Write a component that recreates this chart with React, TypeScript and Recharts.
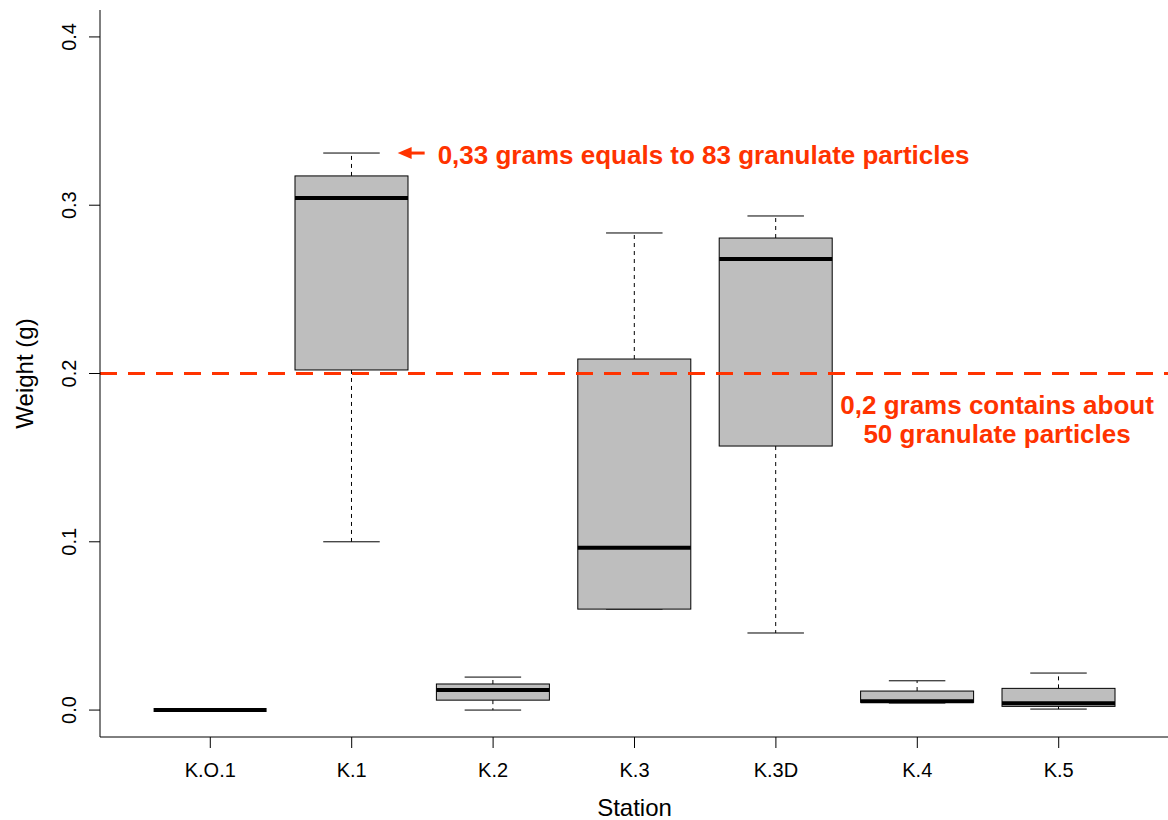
import React from 'react';
import { ComposedChart, Bar, XAxis, YAxis, ReferenceLine, ReferenceDot, Label } from 'recharts';

// ---- data ----
const stations = ['K.O.1', 'K.1', 'K.2', 'K.3', 'K.3D', 'K.4', 'K.5'];
const positions = [1, 2, 3, 4, 5, 6, 7];
const whiskerLow = [0, 0.1, 0, 0.06, 0.0458, 0.0042, 0.0006];
const quartile1 = [0, 0.2021, 0.0059, 0.06, 0.1569, 0.0046, 0.0022];
const medians = [0, 0.3043, 0.0119, 0.0965, 0.268, 0.0052, 0.004];
const quartile3 = [0, 0.3174, 0.0155, 0.2086, 0.2805, 0.0113, 0.0129];
const whiskerHigh = [0, 0.331, 0.0196, 0.2835, 0.2936, 0.0174, 0.022];
const yTicks = [0, 0.1, 0.2, 0.3, 0.4];
const thresholdValue = 0.2;
const maxValue = 0.331;
const note1 = '0,33 grams equals to 83 granulate particles';
const note2a = '0,2 grams contains about';
const note2b = '50 granulate particles';

const data = positions.map((p, i) => ({
  pos: p,
  name: stations[i],
  low: whiskerLow[i],
  q1: quartile1[i],
  med: medians[i],
  q3: quartile3[i],
  high: whiskerHigh[i],
}));

const FONT = '"Liberation Sans", Arial, Helvetica, sans-serif';
const RED = '#FF3300';
const X_DOMAIN: [number, number] = [0.22, 7.78];
const Y_DOMAIN: [number, number] = [-0.016, 0.416];

const BoxShape = (props: any) => {
  const { x, y, width, height, payload } = props;
  if (x == null || payload == null) return null;
  const top = Math.min(y, y + height);
  const bottom = Math.max(y, y + height);
  const { low, q1, med, q3, high } = payload;
  const span = high - low;
  const py = (v: number) => (span > 0 ? bottom - ((v - low) / span) * (bottom - top) : top);
  const cx = x + width / 2;
  const half = width / 2;
  const capHalf = width / 4;
  return (
    <g>
      <line x1={cx} x2={cx} y1={py(q3)} y2={py(high)} stroke="#000" strokeWidth={1} strokeDasharray="4 4" />
      <line x1={cx} x2={cx} y1={py(q1)} y2={py(low)} stroke="#000" strokeWidth={1} strokeDasharray="4 4" />
      <line x1={cx - capHalf} x2={cx + capHalf} y1={py(high)} y2={py(high)} stroke="#000" strokeWidth={1} />
      <line x1={cx - capHalf} x2={cx + capHalf} y1={py(low)} y2={py(low)} stroke="#000" strokeWidth={1} />
      <rect x={cx - half} y={py(q3)} width={width} height={Math.max(0, py(q1) - py(q3))} fill="#BEBEBE" stroke="#000" strokeWidth={1} />
      <line x1={cx - half} x2={cx + half} y1={py(med)} y2={py(med)} stroke="#000" strokeWidth={4} />
    </g>
  );
};

const YTick = (props: any) => {
  const { x, y, payload } = props;
  return (
    <text x={x} y={y} transform={`rotate(-90, ${x}, ${y})`} textAnchor="middle" fontSize={20} fontFamily={FONT} fill="#000">
      {Number(payload.value).toFixed(1)}
    </text>
  );
};

const XTick = (props: any) => {
  const { x, y, payload } = props;
  const idx = positions.indexOf(payload.value);
  return (
    <text x={x} y={y} dy={16} textAnchor="middle" fontSize={20} fontFamily={FONT} fill="#000">
      {idx >= 0 ? stations[idx] : ''}
    </text>
  );
};

const ArrowNote = (props: any) => {
  const { cx, cy } = props;
  if (cx == null) return null;
  return (
    <g>
      <line x1={cx + 10} x2={cx + 27} y1={cy} y2={cy} stroke={RED} strokeWidth={3} />
      <polygon points={`${cx},${cy} ${cx + 14},${cy - 6} ${cx + 14},${cy + 6}`} fill={RED} />
      <text x={cx + 40} y={cy + 11} fontSize={26} fontWeight="bold" fontFamily={FONT} fill={RED}>
        {note1}
      </text>
    </g>
  );
};

const ThresholdNote = (props: any) => {
  const { cx, cy } = props;
  if (cx == null) return null;
  return (
    <g>
      <text x={cx} y={cy + 40} textAnchor="middle" fontSize={26} fontWeight="bold" fontFamily={FONT} fill={RED}>
        {note2a}
      </text>
      <text x={cx} y={cy + 69} textAnchor="middle" fontSize={26} fontWeight="bold" fontFamily={FONT} fill={RED}>
        {note2b}
      </text>
    </g>
  );
};

export default function App() {
  return (
    <div style={{ position: 'absolute', left: 0, top: 0, width: 1168, height: 820, overflow: 'hidden', background: '#fff' }}>
      <ComposedChart width={1169} height={820} data={data} margin={{ top: 10, right: 0, bottom: 0, left: 0 }}>
        <XAxis
          dataKey="pos"
          type="number"
          domain={X_DOMAIN}
          ticks={positions}
          interval={0}
          allowDataOverflow
          height={83}
          tickSize={11}
          tickMargin={13}
          tick={<XTick />}
          stroke="#000"
          axisLine={{ stroke: '#000' }}
          tickLine={{ stroke: '#000' }}
        >
          <Label
            content={(p: any) => {
              const vb = p.viewBox || {};
              return (
                <text x={vb.x + vb.width / 2} y={vb.y + 79} textAnchor="middle" fontSize={24} fontFamily={FONT} fill="#000">
                  Station
                </text>
              );
            }}
          />
        </XAxis>
        <XAxis xAxisId="top" orientation="top" type="number" domain={X_DOMAIN} allowDataOverflow height={0} tick={false} tickLine={false} axisLine={{ stroke: '#000' }} />
        <YAxis
          type="number"
          domain={Y_DOMAIN}
          ticks={yTicks}
          interval={0}
          allowDataOverflow
          width={100}
          tickSize={11}
          tickMargin={13}
          tick={<YTick />}
          axisLine={{ stroke: '#000' }}
          tickLine={{ stroke: '#000' }}
        >
          <Label
            content={(p: any) => {
              const vb = p.viewBox || {};
              const lx = vb.x + 33;
              const ly = vb.y + vb.height / 2;
              return (
                <text x={lx} y={ly} transform={`rotate(-90, ${lx}, ${ly})`} textAnchor="middle" fontSize={24} fontFamily={FONT} fill="#000">
                  Weight (g)
                </text>
              );
            }}
          />
        </YAxis>
        <YAxis yAxisId="right" orientation="right" type="number" domain={Y_DOMAIN} allowDataOverflow width={0} tick={false} tickLine={false} axisLine={{ stroke: '#000' }} />
        <Bar dataKey={(d: any) => [d.low, d.high]} barSize={113} shape={<BoxShape />} isAnimationActive={false} />
        <ReferenceLine y={thresholdValue} stroke={RED} strokeWidth={3} strokeDasharray="17 11" />
        <ReferenceDot x={2.325} y={maxValue} r={0} shape={<ArrowNote />} />
        <ReferenceDot x={6.564} y={thresholdValue} r={0} shape={<ThresholdNote />} />
      </ComposedChart>
    </div>
  );
}
